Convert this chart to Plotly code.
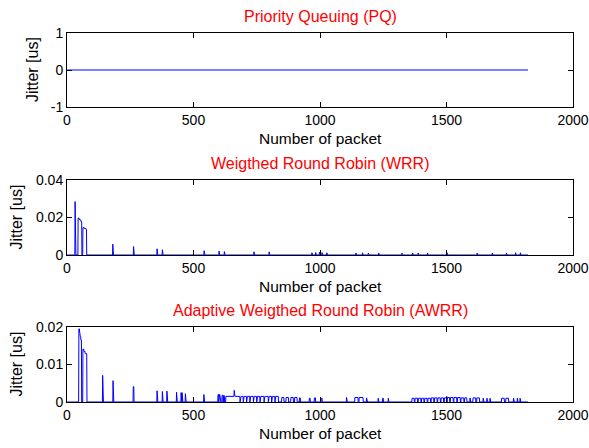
import numpy as np
import plotly.graph_objects as go

# ---------------- data ----------------
n_packets = 1822
x_ticks = [0, 500, 1000, 1500, 2000]

pq_jitter_level = 0.0

# WRR: nonzero jitter samples as (from packet, to packet, jitter [us])
wrr_from = [32, 44, 48, 53, 57, 63, 69, 76, 181, 263, 356, 377, 542, 601, 622, 739, 799,
            968, 983, 998, 1008, 1027, 1142, 1168, 1191, 1232, 1324, 1366, 1388, 1425,
            1502, 1621, 1681, 1737, 1773, 1792]
wrr_to = [32, 47, 52, 56, 58, 68, 75, 77, 181, 263, 356, 377, 542, 601, 622, 739, 799,
          968, 983, 998, 1008, 1027, 1142, 1168, 1191, 1232, 1324, 1366, 1388, 1425,
          1502, 1621, 1681, 1737, 1773, 1792]
wrr_jitter = [0.0285, 0.0197, 0.0190, 0.0183, 0.0176, 0.0146, 0.0141, 0.0135, 0.0058,
              0.0045, 0.0033, 0.0028, 0.0023, 0.0021, 0.0018, 0.0017, 0.0017,
              0.0012, 0.0013, 0.0015, 0.0013, 0.0012, 0.0011, 0.0012, 0.0010, 0.0011,
              0.0010, 0.0011, 0.0011, 0.0011, 0.0012, 0.0011, 0.0010, 0.0011, 0.0012, 0.0012]

# AWRR: nonzero jitter samples as (from packet, to packet, jitter [us])
awrr_from = [47, 50, 52, 55, 63, 67, 72, 141, 182, 262, 356, 377, 395, 433, 451, 455, 468,
             541, 597, 601, 613, 619,
             628, 661, 662, 685, 698, 711, 724, 738, 751, 764, 780, 797, 810, 823,
             849, 866, 885, 900, 919, 958, 978, 1005,
             1105, 1138, 1155, 1184, 1230, 1248, 1270,
             1364, 1376, 1389, 1402, 1414, 1427, 1440, 1453, 1466, 1479, 1492, 1501, 1503,
             1516, 1530, 1544, 1558, 1572,
             1593, 1605, 1620, 1645, 1660, 1672,
             1718, 1735, 1765, 1780, 1791]
awrr_to = [49, 51, 54, 57, 66, 71, 78, 141, 182, 264, 356, 377, 395, 433, 451, 455, 468,
           541, 599, 604, 616, 622,
           660, 661, 683, 696, 709, 722, 736, 749, 762, 778, 795, 808, 821, 835,
           857, 875, 894, 909, 922, 961, 982, 1008,
           1105, 1150, 1170, 1184, 1230, 1250, 1270,
           1372, 1385, 1398, 1410, 1423, 1436, 1449, 1462, 1475, 1488, 1500, 1501, 1512,
           1526, 1540, 1554, 1568, 1580,
           1593, 1615, 1630, 1645, 1660, 1672,
           1728, 1745, 1765, 1780, 1791]
awrr_jitter = [0.0195, 0.0185, 0.0175, 0.0165, 0.0141, 0.0135, 0.0129, 0.0071, 0.0057,
               0.0041, 0.0030, 0.0028, 0.0029, 0.0026, 0.0025, 0.0025, 0.0022,
               0.0020, 0.0020, 0.0020, 0.0018, 0.0017,
               0.0015, 0.0031, 0.0015, 0.0015, 0.0015, 0.0015, 0.0015, 0.0015, 0.0015,
               0.0015, 0.0015, 0.0015, 0.0015, 0.0015,
               0.0012, 0.0012, 0.0012, 0.0012, 0.0011, 0.0010, 0.0011, 0.0010,
               0.0012, 0.0012, 0.0012, 0.0011, 0.0010, 0.0010, 0.0010,
               0.0010, 0.0010, 0.0010, 0.0010, 0.0010, 0.0010, 0.0011, 0.0011, 0.0011,
               0.0011, 0.0011, 0.0015, 0.0012, 0.0012, 0.0012, 0.0012, 0.0011, 0.0011,
               0.0011, 0.0011, 0.0011, 0.0010, 0.0010, 0.0010,
               0.0010, 0.0010, 0.0010, 0.0010, 0.0010]

titles = ["Priority Queuing (PQ)", "Weigthed Round Robin (WRR)",
          "Adaptive Weigthed Round Robin (AWRR)"]
y_ranges = [[-1, 1], [0, 0.04], [0, 0.02]]
y_tickvals = [[-1, 0, 1], [0, 0.02, 0.04], [0, 0.01, 0.02]]
y_ticktext = [["-1", "0", "1"], ["0", "0.02", "0.04"], ["0", "0.01", "0.02"]]


def build_series(froms, tos, vals):
    y = np.zeros(n_packets)
    for a, b, v in zip(froms, tos, vals):
        y[a - 1:b] = v
    return y


packets = np.arange(1, n_packets + 1)
pq = np.full(n_packets, pq_jitter_level)
wrr = build_series(wrr_from, wrr_to, wrr_jitter)
awrr = build_series(awrr_from, awrr_to, awrr_jitter)

# ---------------- figure ----------------
W, H = 589, 448
ml, mr, mt, mb = 67, 16, 33, 46
plot_h = H - mt - mb


def frac(py):
    return (H - mb - py) / plot_h


domains = [[frac(107), 1.0], [frac(255), frac(180)], [0.0, frac(327)]]
ylabel_shift = [-35, -51, -51]

fig = go.Figure()
series = [pq, wrr, awrr]
FONT = "Liberation Sans, Arial, sans-serif"
for i, s in enumerate(series):
    k = "" if i == 0 else str(i + 1)
    fig.add_trace(go.Scatter(x=packets, y=s, mode="lines",
                             line=dict(color="#0000FF", width=1),
                             xaxis="x" + k, yaxis="y" + k, showlegend=False,
                             hoverinfo="skip"))
    axis_common = dict(showline=True, linecolor="black", linewidth=1, mirror="ticks",
                       ticks="inside", ticklen=5, tickcolor="black", showgrid=False,
                       zeroline=False, automargin=False,
                       tickfont=dict(family=FONT, size=14, color="black"))
    fig.layout["xaxis" + k] = dict(domain=[0, 1], range=[0, 2000], tickvals=x_ticks,
                                   ticktext=[str(t) for t in x_ticks],
                                   anchor="y" + k, **axis_common)
    fig.layout["yaxis" + k] = dict(domain=domains[i], range=y_ranges[i],
                                   tickvals=y_tickvals[i], ticktext=y_ticktext[i],
                                   anchor="x" + k, **axis_common)
    d0, d1 = domains[i]
    fig.add_annotation(text=titles[i], xref="paper", yref="paper", x=0.5, y=d1,
                       xanchor="center", yanchor="bottom", yshift=6, showarrow=False,
                       font=dict(family=FONT, size=16, color="#FF0000"))
    fig.add_annotation(text="Number of packet", xref="paper", yref="paper", x=0.5, y=d0,
                       xanchor="center", yanchor="top", yshift=-21, showarrow=False,
                       font=dict(family=FONT, size=15.5, color="black"))
    fig.add_annotation(text="Jitter [us]", xref="paper", yref="paper", x=0, y=(d0 + d1) / 2,
                       xanchor="center", yanchor="middle", xshift=ylabel_shift[i],
                       textangle=-90, showarrow=False,
                       font=dict(family=FONT, size=16, color="black"))

fig.update_layout(width=W, height=H, margin=dict(l=ml, r=mr, t=mt, b=mb),
                  paper_bgcolor="white", plot_bgcolor="white", autosize=False)
fig.write_html(
    "out.html",
    config={"displayModeBar": False, "responsive": False},
    post_script=("document.body.style.margin='0';document.body.style.padding='0';"
                 "document.body.style.overflow='hidden';"
                 "document.documentElement.style.overflow='hidden';"),
)
